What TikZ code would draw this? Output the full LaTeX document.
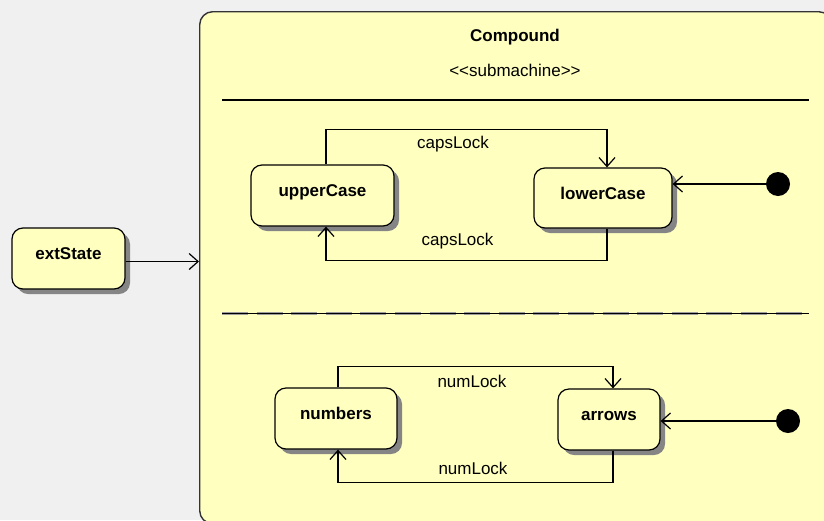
\documentclass[tikz,border=0pt]{standalone}
\usepackage{fontspec}
\setmainfont{Liberation Sans}
\usetikzlibrary{arrows.meta,shadows}
\definecolor{bg}{HTML}{F0F0F0}
\definecolor{statefill}{HTML}{FFFFC0}
\definecolor{shadowgray}{HTML}{858585}
\begin{document}
\begin{tikzpicture}[x=1pt,y=-1pt,
  every node/.style={font=\fontsize{17}{20}\selectfont, inner sep=0pt},
  state/.style={draw=black, line width=1.2pt, fill=statefill, rounded corners=11pt,
    font=\fontsize{17}{20}\selectfont\bfseries, text height=12pt, text depth=10pt,
    drop shadow={shadow xshift=5pt, shadow yshift=-5pt, fill=shadowgray, opacity=1}},
  compound/.style={draw=black!80, line width=1.4pt, fill=statefill, rounded corners=13pt},
  initial/.style={circle, fill=black, minimum size=24pt},
  arr/.style={line width=1.2pt, -{Straight Barb[length=9pt,width=16pt,line width=1.2pt]}},
  lbl/.style={font=\fontsize{17}{20}\selectfont},
  title/.style={font=\fontsize{17}{20}\selectfont\bfseries}
]
\useasboundingbox (0,0) rectangle (824,520);
\fill[bg] (0,0) rectangle (824,520);
\clip (0,0) rectangle (824,520);

% compound state
\node[compound, minimum width=632pt, minimum height=512pt, anchor=north west] (comp) at (199,11) {};
\node[title] (ctitle) at (515,37) {Compound};
\node[lbl] (cstereo) at (515,70) {<\kern0pt<submachine>\kern0pt>};
\draw[line width=1.2pt] (222,100) -- (809,100);
\draw[shadowgray!80, line width=3pt, dash pattern=on 26pt off 8.6pt] (222,313) -- (809,313);
\draw[line width=0.8pt] (222,313) -- (809,313);

% external state
\node[state, minimum width=113pt, minimum height=61pt] (ext) at (68.5,258.5) {extState};
\draw[arr] ([yshift=-3pt]ext.east) -- ([yshift=-3pt]ext.east -| comp.west);

% upper region
\node[state, minimum width=143pt, minimum height=61pt] (uc) at (322.5,195.5) {upperCase};
\node[state, minimum width=138pt, minimum height=60pt] (lc) at (603,198) {lowerCase};
\node[initial] (i1) at (778,184) {};
\draw[arr] (i1) -- (i1 -| lc.east);
\draw[arr] ([xshift=3.5pt]uc.north) -- ++(0,-35) -| ([xshift=4pt]lc.north);
\draw[arr] ([xshift=4pt]lc.south) -- ++(0,32) -| ([xshift=3.5pt]uc.south);
\node[lbl] (l1) at (453,144) {capsLock};
\node[lbl] (l2) at (457.5,241) {capsLock};

% lower region
\node[state, minimum width=122pt, minimum height=61pt] (num) at (336,418.5) {numbers};
\node[state, minimum width=102pt, minimum height=61pt] (ar) at (609,419.5) {arrows};
\node[initial] (i2) at (788,421) {};
\draw[arr] (i2) -- (i2 -| ar.east);
\draw[arr] ([xshift=2pt]num.north) -- ++(0,-21) -| ([xshift=4pt]ar.north);
\draw[arr] ([xshift=4pt]ar.south) -- ++(0,32) -| ([xshift=2pt]num.south);
\node[lbl] (l3) at (472,381) {numLock};
\node[lbl] (l4) at (473,468) {numLock};
\end{tikzpicture}
\end{document}
